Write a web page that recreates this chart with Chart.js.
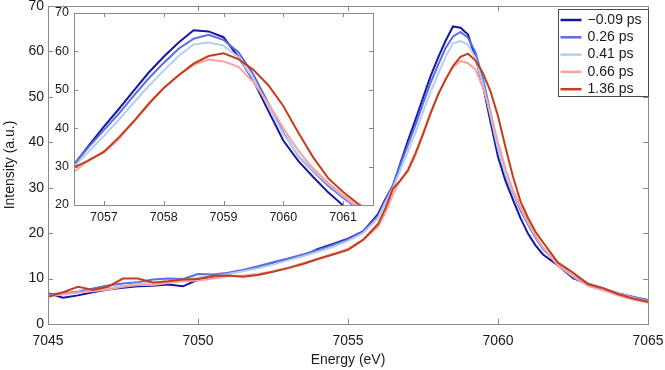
<!DOCTYPE html>
<html>
<head>
<meta charset="utf-8">
<script src="https://cdn.jsdelivr.net/npm/chart.js@4.4.0/dist/chart.umd.min.js"></script>
<style>
  html, body { margin: 0; padding: 0; background: #fff; }
  #wrap { position: relative; width: 665px; height: 370px; }
  #mainChart { position: absolute; left: 0; top: 0; }
  #insetChart { position: absolute; left: 40px; top: 0; }
</style>
</head>
<body>
<div id="wrap">
  <canvas id="mainChart" width="665" height="370"></canvas>
  <canvas id="insetChart" width="345" height="235"></canvas>
</div>
<script>
// energy grid (eV)
const energy = [
  7045, 7045.5, 7046, 7046.5, 7047, 7047.5, 7048, 7048.5, 7049, 7049.5,
  7050, 7050.5, 7051, 7051.5, 7052, 7052.5, 7053, 7053.5, 7054, 7054.5,
  7055, 7055.5, 7056, 7056.25, 7056.5, 7056.75, 7057, 7057.25, 7057.5, 7057.75,
  7058, 7058.25, 7058.5, 7058.75, 7059, 7059.25, 7059.5, 7059.75, 7060, 7060.25,
  7060.5, 7060.75, 7061, 7061.25, 7061.5, 7062, 7062.5, 7063, 7063.5, 7064,
  7064.5, 7065
];

const delays = ["\u22120.09 ps", "0.26 ps", "0.41 ps", "0.66 ps", "1.36 ps"];
const colors = ["#1616a3", "#5a6de2", "#b7cdef", "#f4a2a2", "#c53d1a"];

const tm009 = [
  6.8, 5.8, 6.3, 7.0, 7.6, 8.0, 8.3, 8.4, 8.7, 8.3,
  9.8, 10.3, 11.0, 11.8, 12.4, 13.3, 14.3, 15.0, 16.5, 17.6,
  18.8, 20.4, 24.2, 27.5, 30.5, 35.5, 40.4, 45.0, 49.8, 54.5,
  58.6, 62.3, 65.5, 65.2, 63.7, 58.5, 52.4, 44.5, 36.8, 31.5,
  27.3, 23.3, 19.9, 17.3, 15.3, 12.9, 10.1, 8.8, 7.7, 6.7,
  5.9, 5.3
];
const t026 = [
  6.5, 6.8, 7.1, 7.8, 8.5, 8.9, 9.2, 9.8, 10.0, 9.9,
  11.0, 10.9, 11.3, 11.9, 12.7, 13.6, 14.4, 15.3, 16.3, 17.4,
  18.6, 20.3, 23.8, 27.2, 30.6, 35.2, 39.5, 43.8, 48.5, 53.0,
  57.0, 60.7, 63.3, 64.3, 63.0, 59.8, 54.0, 46.5, 38.8, 32.8,
  28.8, 25.0, 21.9, 19.0, 16.5, 13.3, 10.6, 8.9, 7.9, 6.8,
  6.0, 5.2
];
const t041 = [
  6.2, 6.5, 6.9, 7.4, 7.8, 8.4, 8.8, 9.2, 9.4, 9.7,
  10.2, 10.5, 11.0, 11.6, 12.3, 13.1, 14.0, 14.9, 15.9, 17.0,
  18.3, 20.0, 23.3, 26.7, 30.0, 34.0, 38.0, 42.2, 46.7, 51.0,
  55.0, 58.8, 61.8, 62.3, 61.5, 58.5, 52.8, 45.8, 38.5, 33.0,
  29.0, 25.5, 22.3, 19.3, 16.8, 13.4, 10.9, 9.0, 7.8, 6.7,
  5.8, 5.0
];
const t066 = [
  6.0, 6.6, 7.0, 7.2, 7.6, 8.2, 8.6, 8.6, 9.0, 9.4,
  9.6, 10.0, 10.5, 10.7, 11.0, 11.6, 12.4, 13.4, 14.4, 15.4,
  16.6, 18.5, 21.4, 24.5, 28.6, 31.8, 33.6, 37.2, 41.8, 46.5,
  50.4, 53.8, 56.5, 57.9, 57.4, 56.0, 52.0, 46.5, 40.0, 34.2,
  29.5, 25.8, 22.5, 19.5, 16.8, 12.8, 10.4, 8.4, 7.4, 6.3,
  5.4, 4.7
];
const t136 = [
  6.0, 7.0, 8.2, 7.5, 8.2, 10.0, 10.0, 9.1, 9.4, 9.8,
  9.9, 10.6, 10.7, 10.4, 10.8, 11.5, 12.3, 13.2, 14.3, 15.3,
  16.3, 18.5, 22.0, 25.5, 29.8, 31.6, 33.9, 37.6, 41.8, 46.3,
  50.5, 53.8, 56.8, 58.8, 59.5, 58.0, 55.2, 51.2, 45.8, 38.9,
  32.4, 27.0, 23.4, 20.3, 18.0, 13.5, 11.3, 8.8, 7.9, 6.6,
  5.6, 4.9
];
const seriesList = [tm009, t026, t041, t066, t136];

// axis ranges and ticks
const mainX = { min: 7045, max: 7065, step: 5 };
const mainY = { min: 0, max: 70, step: 10 };
const insetX = { min: 7056.5, max: 7061.5 };
const insetXTicks = [7057, 7058, 7059, 7060, 7061];
const insetY = { min: 20, max: 70, step: 10 };

Chart.defaults.font.family = "'Liberation Sans', Arial, Helvetica, sans-serif";
Chart.defaults.color = "#1a1a1a";

function makeDatasets() {
  return seriesList.map((s, i) => ({
    label: delays[i],
    data: s.map((v, k) => ({ x: energy[k], y: v })),
    borderColor: colors[i],
    backgroundColor: colors[i],
    borderWidth: 2,
    pointRadius: 0,
    tension: 0,
    order: seriesList.length - i
  }));
}

// frame with inward ticks on all four sides
const frameTicks = {
  id: "frameTicks",
  beforeDatasetsDraw(chart, args, opts) {
    if (!opts.fill) return;
    const a = chart.chartArea;
    chart.ctx.save();
    chart.ctx.fillStyle = opts.fill;
    chart.ctx.fillRect(a.left, a.top, a.width, a.height);
    chart.ctx.restore();
  },
  afterDatasetsDraw(chart, args, opts) {
    const { ctx, chartArea: a, scales } = chart;
    const len = opts.len || 5;
    ctx.save();
    ctx.strokeStyle = opts.color || "#888";
    ctx.lineWidth = 1;
    ctx.beginPath();
    scales.x.ticks.forEach(t => {
      const px = Math.round(scales.x.getPixelForValue(t.value)) + 0.5;
      ctx.moveTo(px, a.bottom); ctx.lineTo(px, a.bottom - len);
      ctx.moveTo(px, a.top); ctx.lineTo(px, a.top + len);
    });
    scales.y.ticks.forEach(t => {
      const py = Math.round(scales.y.getPixelForValue(t.value)) + 0.5;
      ctx.moveTo(a.left, py); ctx.lineTo(a.left + len, py);
      ctx.moveTo(a.right, py); ctx.lineTo(a.right - len, py);
    });
    ctx.stroke();
    ctx.strokeRect(Math.round(a.left) + 0.5, Math.round(a.top) + 0.5,
      Math.round(a.width), Math.round(a.height));
    ctx.restore();
  }
};

// legend box in the upper right corner
const boxLegend = {
  id: "boxLegend",
  afterDraw(chart, args, opts) {
    if (!opts.show) return;
    const ctx = chart.ctx;
    const a = chart.chartArea;
    const w = 90, h = 87;
    const x0 = Math.round(a.right) - w + 0.5, y0 = 9.5;
    ctx.save();
    ctx.fillStyle = "#fff";
    ctx.fillRect(x0, y0, w, h);
    ctx.strokeStyle = "#4a4a4a";
    ctx.lineWidth = 1;
    ctx.strokeRect(x0, y0, w, h);
    ctx.font = "14px 'Liberation Sans', Arial, sans-serif";
    ctx.textBaseline = "middle";
    chart.data.datasets.forEach((ds, i) => {
      const yy = y0 + 10.5 + i * 17.3;
      ctx.strokeStyle = ds.borderColor;
      ctx.lineWidth = 2.5;
      ctx.beginPath();
      ctx.moveTo(x0 + 2, yy); ctx.lineTo(x0 + 23, yy);
      ctx.stroke();
      ctx.fillStyle = "#1a1a1a";
      ctx.fillText(ds.label, x0 + 29, yy);
    });
    ctx.restore();
  }
};

function fixBox(size) {
  return function (scale) {
    if (scale.isHorizontal()) {
      scale.height = size;
      scale.paddingLeft = 0; scale.paddingRight = 0;
    } else {
      scale.width = size;
      scale.paddingTop = 0; scale.paddingBottom = 0;
    }
  };
}

const noGrid = { display: false, drawTicks: false };

new Chart(document.getElementById("mainChart"), {
  type: "line",
  data: { datasets: makeDatasets() },
  plugins: [frameTicks, boxLegend],
  options: {
    responsive: false,
    animation: false,
    layout: { padding: { top: 6, right: 17, left: 0, bottom: 0 } },
    plugins: {
      legend: { display: false },
      tooltip: { enabled: false },
      frameTicks: { color: "#8a8a8a", len: 5 },
      boxLegend: { show: true }
    },
    scales: {
      x: {
        type: "linear",
        min: mainX.min, max: mainX.max,
        afterFit: fixBox(46),
        border: { display: false },
        grid: noGrid,
        ticks: { stepSize: mainX.step, padding: 9, font: { size: 14 }, maxRotation: 0,
          callback: v => String(v) },
        title: { display: true, text: "Energy (eV)", font: { size: 14 }, padding: { top: 0, bottom: 1 } }
      },
      y: {
        min: mainY.min, max: mainY.max,
        afterFit: fixBox(48),
        border: { display: false },
        grid: noGrid,
        ticks: { stepSize: mainY.step, padding: 4, font: { size: 14 } },
        title: { display: true, text: "Intensity (a.u.)", font: { size: 14 }, padding: { top: 2, bottom: 0 } }
      }
    }
  }
});

new Chart(document.getElementById("insetChart"), {
  type: "line",
  data: { datasets: makeDatasets() },
  plugins: [frameTicks],
  options: {
    responsive: false,
    animation: false,
    layout: { padding: { top: 13, right: 12, left: 0, bottom: 0 } },
    plugins: {
      legend: { display: false },
      tooltip: { enabled: false },
      frameTicks: { color: "#8a8a8a", len: 4, fill: "#fff" }
    },
    scales: {
      x: {
        type: "linear",
        min: insetX.min, max: insetX.max,
        afterFit: fixBox(30),
        afterBuildTicks: scale => { scale.ticks = insetXTicks.map(v => ({ value: v })); },
        border: { display: false },
        grid: noGrid,
        ticks: { padding: 5, font: { size: 12.5 }, maxRotation: 0, autoSkip: false,
          callback: v => String(v) }
      },
      y: {
        min: insetY.min, max: insetY.max,
        afterFit: fixBox(34),
        border: { display: false },
        grid: noGrid,
        ticks: { stepSize: insetY.step, padding: 5, font: { size: 12.5 } }
      }
    }
  }
});
</script>
</body>
</html>
